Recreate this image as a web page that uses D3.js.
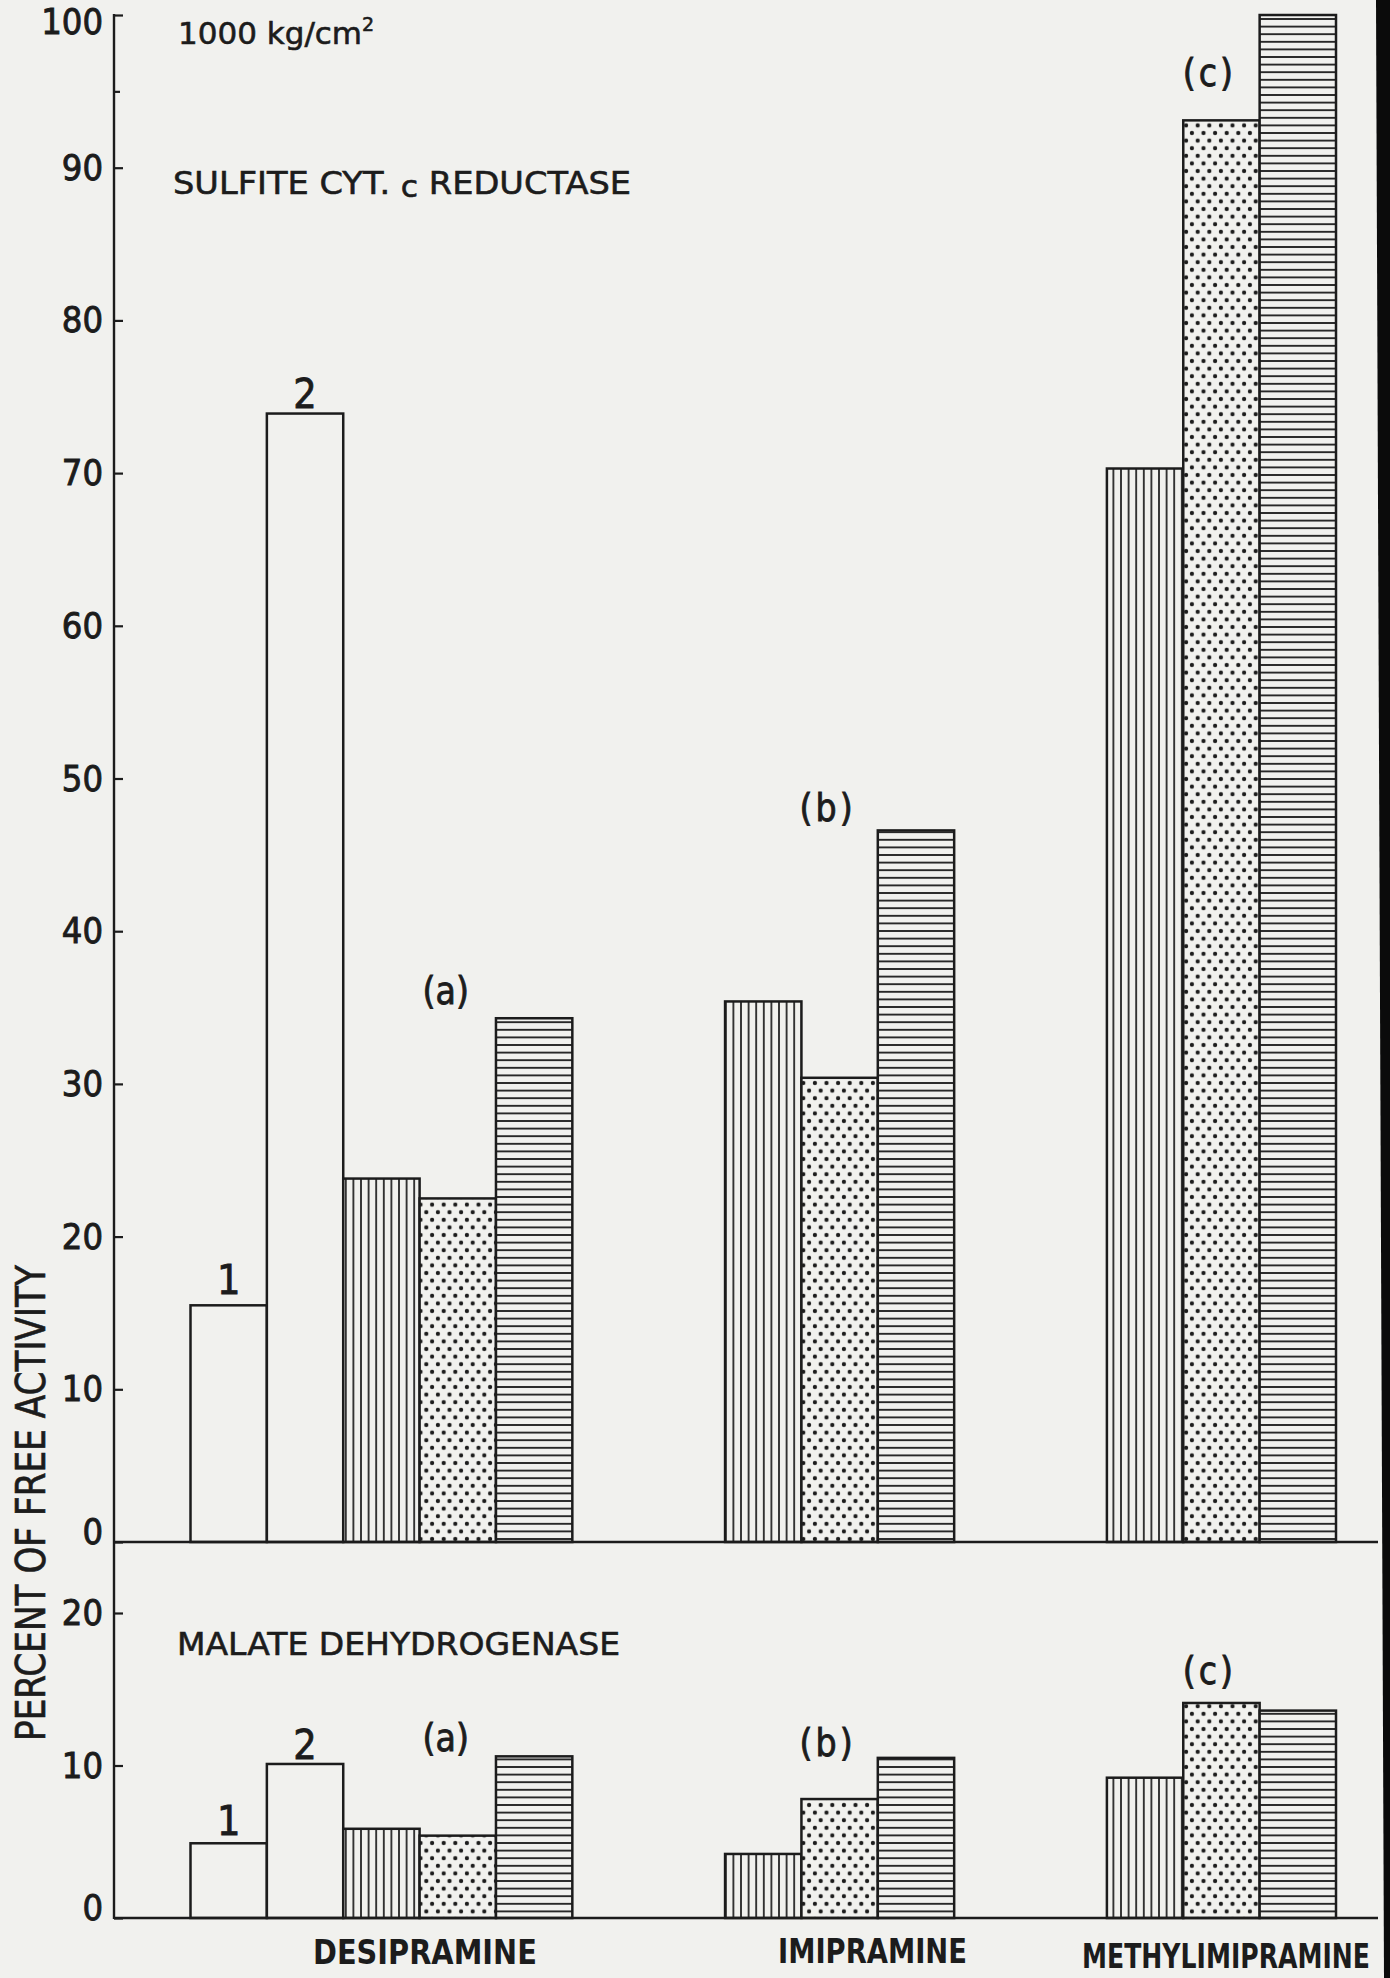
<!DOCTYPE html>
<html><head><meta charset="utf-8">
<script src="https://cdn.jsdelivr.net/npm/d3@7"></script>
<style>html,body{margin:0;padding:0;background:#f1f1ee} svg{display:block}</style>
</head><body><div id="chart"></div>
<script>
// ---------------- data ----------------
const groups = ["DESIPRAMINE", "IMIPRAMINE", "METHYLIMIPRAMINE"];
// series present in each group: "1","2" = open bars, "v" = vertical hatch, "d" = dotted, "h" = horizontal hatch
const groupSeries = [["1", "2", "v", "d", "h"], ["v", "d", "h"], ["v", "d", "h"]];
const sulfiteValues = [[15.5, 73.9, 23.8, 22.5, 34.3], [35.4, 30.4, 46.6], [70.3, 93.1, 100]];
const malateValues = [[4.9, 10.1, 5.85, 5.4, 10.6], [4.2, 7.8, 10.5], [9.2, 14.1, 13.6]];
const upperTicks = [0, 10, 20, 30, 40, 50, 60, 70, 80, 90, 100];
const upperMinorTicks = [95];
const lowerTicks = [0, 10, 20];
const noteTexts = ["1", "2", "(a)", "(b)", "(c)"];
const noteGroup = [0, 0, 0, 1, 2];
const noteSeries = ["1", "2", "d", "d", "d"];
const sulfiteNoteValues = [17.2, 75.2, 36.1, 48.1, 96.2];
const malateNoteValues = [6.4, 11.4, 11.8, 11.5, 16.2];
const panelTitles = ["SULFITE CYT.", "c", "REDUCTASE", "MALATE DEHYDROGENASE"];
const pressureText = ["1000 kg/cm", "2"];
const yTitle = "PERCENT OF FREE ACTIVITY";

// ---------------- setup ----------------
const W = 1390, H = 1978;
const INK = "#1c1c1c", PAPER = "#f1f1ee";
const FONT = "'DejaVu Sans Condensed','Liberation Sans Narrow',sans-serif";
const WIDE = "'DejaVu Sans','Liberation Sans',sans-serif";
const svg = d3.select("#chart").append("svg").attr("width", W).attr("height", H)
  .attr("font-family", FONT);
svg.append("rect").attr("width", W).attr("height", H).attr("fill", PAPER);

const defs = svg.append("defs");
const pv = defs.append("pattern").attr("id", "pv").attr("patternUnits", "userSpaceOnUse")
  .attr("width", 7.6).attr("height", 10);
pv.append("rect").attr("width", 7.6).attr("height", 10).attr("fill", PAPER);
pv.append("line").attr("x1", 3.8).attr("x2", 3.8).attr("y1", 0).attr("y2", 10)
  .attr("stroke", INK).attr("stroke-width", 1.7);
const ph = defs.append("pattern").attr("id", "ph").attr("patternUnits", "userSpaceOnUse")
  .attr("width", 10).attr("height", 7.6);
ph.append("rect").attr("width", 10).attr("height", 7.6).attr("fill", PAPER);
ph.append("line").attr("x1", 0).attr("x2", 10).attr("y1", 3.8).attr("y2", 3.8)
  .attr("stroke", INK).attr("stroke-width", 1.8);
const pd = defs.append("pattern").attr("id", "pd").attr("patternUnits", "userSpaceOnUse")
  .attr("width", 11.6).attr("height", 15.2);
pd.append("rect").attr("width", 11.6).attr("height", 15.2).attr("fill", PAPER);
pd.append("circle").attr("cx", 2.9).attr("cy", 3.8).attr("r", 2.1).attr("fill", INK);
pd.append("circle").attr("cx", 8.7).attr("cy", 11.4).attr("r", 2.1).attr("fill", INK);
const fillFor = {"1": PAPER, "2": PAPER, "v": "url(#pv)", "d": "url(#pd)", "h": "url(#ph)"};

// slot domain: bars of each group, two empty slots between groups
const slots = [];
groups.forEach((g, gi) => {
  groupSeries[gi].forEach(s => slots.push(g + "|" + s));
  if (gi < groups.length - 1) { slots.push(g + "|gap1"); slots.push(g + "|gap2"); }
});
const x = d3.scaleBand().domain(slots).range([190.5, 1336]).padding(0);
const yTop = d3.scaleLinear().domain([0, 100]).range([1542, 15]);
const yBot = d3.scaleLinear().domain([0, 20]).range([1918, 1613]);
const AX = 114;

// scanned page edge (dark strip on the right)
svg.append("path").attr("d", "M1376,0 L1390,0 L1390,1978 L1384,1978 L1380,1000 Z")
  .attr("fill", "#0b0b0b");

// ---------------- bars ----------------
function drawPanel(values, y) {
  const data = [];
  groups.forEach((g, gi) => groupSeries[gi].forEach((s, si) =>
    data.push({key: g + "|" + s, s, v: values[gi][si]})));
  const gBars = svg.append("g");
  gBars.selectAll("rect").data(data).join("rect")
    .attr("x", d => x(d.key)).attr("width", x.bandwidth())
    .attr("y", d => y(d.v)).attr("height", d => y(0) - y(d.v))
    .attr("fill", d => fillFor[d.s])
    .attr("stroke", INK).attr("stroke-width", 2.5).attr("stroke-linejoin", "miter");
}
drawPanel(sulfiteValues, yTop);
drawPanel(malateValues, yBot);

// baselines
[yTop, yBot].forEach(y => svg.append("line")
  .attr("x1", AX).attr("x2", 1378).attr("y1", y(0)).attr("y2", y(0))
  .attr("stroke", INK).attr("stroke-width", 2.6));

// ---------------- axes ----------------
function styleAxis(g) {
  g.select(".domain").remove();
  g.selectAll(".tick line").attr("stroke", INK).attr("stroke-width", 2.2);
  g.selectAll(".tick text").attr("fill", INK).attr("font-size", 36)
    .attr("font-family", FONT).attr("stroke", INK).attr("stroke-width", 0.9);
}
const axTop = svg.append("g").attr("transform", `translate(${AX},0)`)
  .call(d3.axisLeft(yTop).tickValues(upperTicks).tickSizeInner(-9).tickSizeOuter(0)
    .tickPadding(11).tickFormat(d3.format("d")));
styleAxis(axTop);
const axMinor = svg.append("g").attr("transform", `translate(${AX},0)`)
  .call(d3.axisLeft(yTop).tickValues(upperMinorTicks).tickSizeInner(-6).tickSizeOuter(0).tickFormat(""));
styleAxis(axMinor);
const axBot = svg.append("g").attr("transform", `translate(${AX},0)`)
  .call(d3.axisLeft(yBot).tickValues(lowerTicks).tickSizeInner(-9).tickSizeOuter(0)
    .tickPadding(11).tickFormat(d3.format("d")));
styleAxis(axBot);
[axTop, axBot].forEach(a => a.selectAll(".tick text").filter(d => d === 0)
  .attr("transform", "translate(0,-10)"));
axTop.selectAll(".tick text").filter(d => d === 100).attr("transform", "translate(0,7)");
svg.append("line").attr("x1", AX).attr("x2", AX).attr("y1", yTop(100) - 1).attr("y2", yBot(0) + 1)
  .attr("stroke", INK).attr("stroke-width", 2.4);

// ---------------- annotations ----------------
function drawNotes(vals, y) {
  noteTexts.forEach((t, i) => {
    const key = groups[noteGroup[i]] + "|" + noteSeries[i];
    const paren = t.startsWith("(");
    svg.append("text").text(t)
      .attr("x", x(key) + x.bandwidth() / 2 + (paren ? -12 : 0))
      .attr("y", y(vals[i])).attr("dy", "0.36em")
      .attr("text-anchor", "middle").attr("fill", INK)
      .attr("stroke", INK).attr("stroke-width", 0.8)
      .attr("font-size", paren ? 37 : 41)
      .attr("letter-spacing", t === "(c)" || t === "(b)" ? 3 : 0);
  });
}
drawNotes(sulfiteNoteValues, yTop);
drawNotes(malateNoteValues, yBot);

// titles
const pt = svg.append("text").attr("x", 178).attr("y", 44).attr("font-size", 31)
  .attr("font-family", WIDE).attr("fill", INK).attr("stroke", INK).attr("stroke-width", 0.6);
pt.append("tspan").text(pressureText[0]);
pt.append("tspan").text(pressureText[1]).attr("font-size", 19).attr("dy", -13);

const st = svg.append("text").attr("x", 173).attr("y", 194).attr("font-size", 32)
  .attr("font-family", WIDE).attr("fill", INK).attr("stroke", INK).attr("stroke-width", 0.6)
  .attr("textLength", 458).attr("lengthAdjust", "spacingAndGlyphs");
st.append("tspan").text(panelTitles[0] + " ");
st.append("tspan").text(panelTitles[1]).attr("font-size", 30).attr("dy", 3);
st.append("tspan").text(" " + panelTitles[2]).attr("dy", -3);

svg.append("text").attr("x", 177).attr("y", 1655).attr("font-size", 32)
  .attr("font-family", WIDE).attr("fill", INK).attr("stroke", INK).attr("stroke-width", 0.6)
  .attr("textLength", 443).attr("lengthAdjust", "spacingAndGlyphs").text(panelTitles[3]);

svg.append("text").attr("transform", "translate(45,1503) rotate(-90)")
  .attr("text-anchor", "middle").attr("font-size", 40).attr("fill", INK)
  .attr("stroke", INK).attr("stroke-width", 0.6)
  .attr("textLength", 476).attr("lengthAdjust", "spacingAndGlyphs").text(yTitle);

// category labels: horizontally scaled to the lettering width seen in the figure
const catX = [313, 778, 1082], catW = [224, 189, 288], catY = [1964, 1963, 1968];
groups.forEach((g, i) => {
  const t = svg.append("text").attr("x", 0).attr("y", 0)
    .attr("font-size", 34).attr("font-weight", "bold").attr("fill", INK).text(g);
  const natural = t.node().getComputedTextLength();
  t.attr("transform", `translate(${catX[i]},${catY[i]}) scale(${catW[i] / natural},1)`);
});
</script></body></html>
